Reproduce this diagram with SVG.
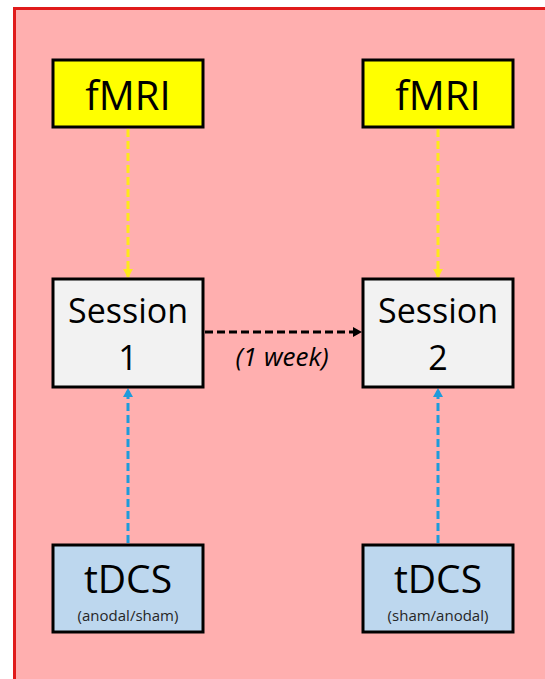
<svg xmlns="http://www.w3.org/2000/svg" width="545" height="679" viewBox="0 0 545 679">
<defs>
<style>
.t{font-family:"Open Sans","Liberation Sans",sans-serif;fill:#000;text-anchor:middle}
.sub{font-size:15px;fill:#262626}
.box{stroke:#000;stroke-width:3}
.con{fill:none;stroke-width:3;stroke-dasharray:8 4}
</style>
<marker id="ay" markerWidth="10" markerHeight="10" refX="8" refY="5" orient="auto" markerUnits="userSpaceOnUse"><path d="M0,0 L9,5 L0,10 Z" fill="#FFE81A"/></marker>
<marker id="ab" markerWidth="10" markerHeight="10" refX="8" refY="5" orient="auto" markerUnits="userSpaceOnUse"><path d="M0,0 L9,5 L0,10 Z" fill="#1E9BDB"/></marker>
<marker id="ak" markerWidth="10" markerHeight="10" refX="8" refY="5" orient="auto" markerUnits="userSpaceOnUse"><path d="M0,0 L9,5 L0,10 Z" fill="#000"/></marker>
</defs>
<rect x="0" y="0" width="545" height="679" fill="#fff"/>
<rect x="14.5" y="8.5" width="545" height="690" fill="#FFAFAF" stroke="#E01B1B" stroke-width="3"/>
<g id="connectors">
<line class="con" x1="128" y1="129" x2="128" y2="277" stroke="#FFE81A" marker-end="url(#ay)"/>
<line class="con" x1="438" y1="129" x2="438" y2="277" stroke="#FFE81A" marker-end="url(#ay)"/>
<line class="con" x1="128" y1="543" x2="128" y2="389" stroke="#1E9BDB" marker-end="url(#ab)"/>
<line class="con" x1="438" y1="543" x2="438" y2="389" stroke="#1E9BDB" marker-end="url(#ab)"/>
<line class="con" x1="205" y1="332" x2="361" y2="332" stroke="#000" marker-end="url(#ak)"/>
<text class="t" x="282" y="366" font-size="26" font-style="italic">(1 week)</text>
</g>
<g id="fmri1"><rect class="box" x="53" y="60" width="150" height="67" fill="#FFFF00"/><text class="t" x="128" y="110" font-size="40">fMRI</text></g>
<g id="fmri2"><rect class="box" x="363" y="60" width="150" height="67" fill="#FFFF00"/><text class="t" x="438" y="110" font-size="40">fMRI</text></g>
<g id="session1"><rect class="box" x="53" y="279" width="150" height="108" fill="#F2F2F2"/><text class="t" x="128" y="323" font-size="34">Session</text><text class="t" x="128" y="370" font-size="34">1</text></g>
<g id="session2"><rect class="box" x="363" y="279" width="150" height="108" fill="#F2F2F2"/><text class="t" x="438" y="323" font-size="34">Session</text><text class="t" x="438" y="370" font-size="34">2</text></g>
<g id="tdcs1"><rect class="box" x="53" y="545" width="150" height="87" fill="#BDD7EE"/><text class="t" x="128" y="593" font-size="39">tDCS</text><text class="t sub" x="128" y="621">(anodal/sham)</text></g>
<g id="tdcs2"><rect class="box" x="363" y="545" width="150" height="87" fill="#BDD7EE"/><text class="t" x="438" y="593" font-size="39">tDCS</text><text class="t sub" x="438" y="621">(sham/anodal)</text></g>
</svg>
